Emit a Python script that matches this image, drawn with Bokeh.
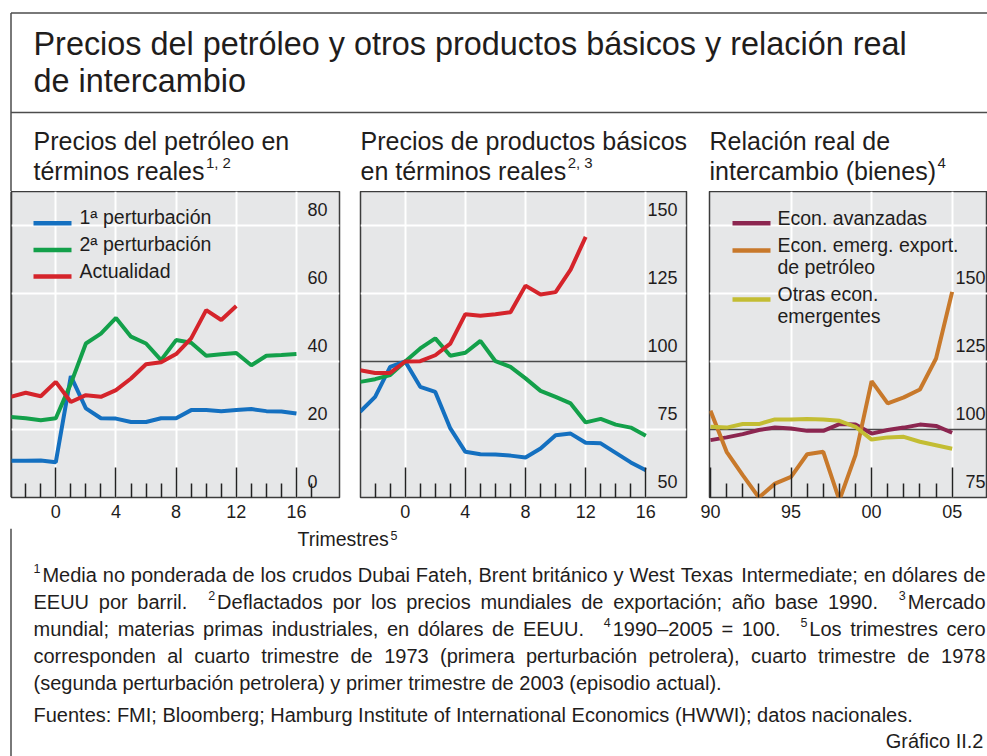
from bokeh.plotting import figure
from bokeh.layouts import column, row
from bokeh.models import Range1d, FixedTicker, Grid, ColumnDataSource
from bokeh.core.properties import value, field
from bokeh.embed import file_html
from bokeh.resources import INLINE

# ------------------------------------------------------------------ data
quarters = list(range(-3, 17))
quarters_now = list(range(-3, 13))
oil_first = [10.8, 10.8, 10.9, 10.4, 35.7, 26.2, 23.3, 23.2, 22.2, 22.2,
             23.3, 23.3, 25.7, 25.7, 25.4, 25.7, 26.0, 25.4, 25.3, 24.7]
oil_second = [23.7, 23.3, 22.7, 23.3, 33.5, 45.3, 48.2, 52.8, 47.3, 45.3,
              40.4, 46.3, 45.5, 41.7, 42.1, 42.5, 38.9, 41.7, 41.9, 42.2]
oil_current = [29.6, 30.8, 29.8, 34.0, 28.1, 30.1, 29.6, 31.6, 35.0, 39.2,
               39.8, 42.2, 46.8, 55.1, 52.2, 56.3]

com_first = [81.5, 87.0, 98.0, 100.0, 90.7, 88.8, 75.4, 66.8, 65.9, 65.8,
             65.4, 64.7, 68.0, 72.9, 73.5, 70.1, 69.9, 66.4, 62.9, 60.0]
com_second = [92.5, 93.5, 95.0, 100.0, 104.8, 108.5, 102.1, 103.2, 107.6, 100.1,
              98.0, 93.8, 89.2, 87.0, 84.6, 77.6, 78.9, 76.8, 75.7, 72.7]
com_current = [96.8, 95.8, 95.8, 100.0, 100.1, 102.3, 106.6, 117.4, 116.8, 117.4,
               118.1, 127.9, 124.6, 125.5, 133.8, 145.8]

years = list(range(1990, 2006))
tot_advanced = [96.1, 97.1, 98.3, 99.8, 100.7, 100.4, 99.5, 99.5, 102.0, 101.8,
                98.5, 99.8, 100.7, 101.8, 101.3, 98.8]
tot_oil_exp = [106.9, 91.8, 83.2, 75.0, 80.1, 82.6, 90.9, 91.8, 74.0, 90.6,
               117.8, 109.6, 111.8, 114.7, 126.1, 150.6]
tot_other = [101.0, 100.7, 102.0, 102.0, 103.7, 103.7, 103.9, 103.7, 103.2, 101.0,
             96.3, 97.1, 97.3, 95.5, 94.2, 92.9]

q_major = [0, 4, 8, 12, 16]
q_minor_1 = [-2, -1, 1, 2, 3, 5, 6, 7, 9, 10, 11, 13, 14, 15, 17]
q_minor_2 = [-2, -1, 1, 2, 3, 5, 6, 7, 9, 10, 11, 13, 14, 15]
y_major = [1990, 1995, 2000, 2005]
y_minor = [1991, 1992, 1993, 1994, 1996, 1997, 1998, 1999, 2001, 2002, 2003, 2004]
year_labels = {1990: "90", 1995: "95", 2000: "00", 2005: "05"}

oil_ticks = [0, 20, 40, 60, 80]
com_ticks = [50, 75, 100, 125, 150]
tot_ticks = [75, 100, 125, 150]

legend_oil = ["1ª perturbación", "2ª perturbación", "Actualidad"]
legend_tot = [["Econ. avanzadas"], ["Econ. emerg. export.", "de petróleo"],
              ["Otras econ.", "emergentes"]]

# ------------------------------------------------------------------ style
FONT = "Liberation Sans"
TXT = "#1f1d1c"
BG = "#e6e7e8"
FRAME = "#3c3c3c"
BORDER = "#4d4d4d"
C_BLUE, C_GREEN, C_RED = "#1470c0", "#13a04a", "#d5242b"
C_MAROON, C_ORANGE, C_OLIVE = "#8c2650", "#c8792b", "#c3bd33"
TY = 2.0   # rendered text centre sits this many px below the given y

AW = {' ': 278, '!': 278, '(': 333, ')': 333, ',': 278, '-': 333, '.': 278,
      ':': 278, ';': 278, '=': 584, '–': 556, 'ª': 370}
for c in '0123456789':
    AW[c] = 556
AW.update(dict(A=667, B=667, C=722, D=722, E=667, F=611, G=778, H=722, I=278, J=500,
               K=667, L=556, M=833, N=722, O=778, P=667, Q=778, R=722, S=667, T=611,
               U=722, V=667, W=944, X=667, Y=667, Z=611))
AW.update(dict(a=556, b=556, c=500, d=556, e=556, f=278, g=556, h=556, i=222, j=222,
               k=500, l=222, m=833, n=556, o=556, p=556, q=556, r=333, s=500, t=278,
               u=556, v=500, w=722, x=500, y=500, z=500))
for a, b in zip('áéíóúñ', 'aeioun'):
    AW[a] = AW[b]


def tw(s, size):
    return sum(AW.get(ch, 556) for ch in s) * size / 1000.0


def new_rows():
    return dict(x=[], y=[], text=[], size=[])


def put(rows, text, x, y, size):
    rows['x'].append(x)
    rows['y'].append(y)
    rows['text'].append(text)
    rows['size'].append("%.1fpx" % size)


def draw_rows(p, rows, align="left", color=TXT):
    p.text(x='x', y='y', text='text', source=ColumnDataSource(rows),
           text_font=value(FONT), text_font_size=field('size'),
           text_align=align, text_baseline="alphabetic", text_color=color)


def canvas(w, h, x0, x1, ytop, ybot):
    p = figure(width=w, height=h, x_range=Range1d(x0, x1), y_range=Range1d(ybot, ytop),
               min_border=0, output_backend="svg", toolbar_location=None,
               x_axis_location=None, y_axis_location=None,
               outline_line_color=None, background_fill_color="white",
               border_fill_color="white")
    for r in p.center:
        r.visible = False
    return p


FS, SUP, RAISE = 20, 12.5, 6.0


def parse(line):
    words, gaps, wide = [], [], False
    for tok in line.split(' '):
        if tok == '|':
            wide = True
            continue
        runs = []
        if tok.startswith('^'):
            runs.append((tok[1], SUP, RAISE, 2.0))
            tok = tok[2:]
        runs.append((tok, FS, 0.0, 0.0))
        if words:
            gaps.append(3 if wide else 1)
        wide = False
        words.append(runs)
    return words, gaps


def place_line(rows, line, x0, y, x1=None):
    words, gaps = parse(line)
    widths = [sum(tw(t, s) + pad for t, s, dy, pad in w) for w in words]
    sp = tw(' ', FS)
    base = [g * sp for g in gaps]
    extra = 0.0
    if x1 is not None and gaps:
        extra = (x1 - x0 - sum(widths) - sum(base)) / len(gaps)
    x = x0
    for i, w in enumerate(words):
        xx = x
        for t, s, dy, pad in w:
            put(rows, t, xx, y - dy, s)
            xx += tw(t, s) + pad
        x += widths[i]
        if i < len(gaps):
            x += base[i] + extra


# ------------------------------------------------------------------ header
hdr = canvas(987, 191, 0, 987, 0, 191)
hdr.segment(x0=[10.5, 10.5, 10.5], y0=[12.5, 12.5, 112], x1=[987, 10.5, 987],
            y1=[12.5, 191, 112], line_color=BORDER, line_width=1.5)
hr = new_rows()
TF = 32.4
put(hr, "Precios del petróleo y otros productos básicos y relación real", 33, 45 - TY, TF)
put(hr, "de intercambio", 33, 82 - TY, TF)
SUBF, SUBS = 25, 15
subs = [(33, "Precios del petróleo en", "términos reales", "1, 2"),
        (360, "Precios de productos básicos", "en términos reales", "2, 3"),
        (709, "Relación real de", "intercambio (bienes)", "4")]
for x0, l1, l2, sup in subs:
    put(hr, l1, x0, 142 - TY, SUBF)
    put(hr, l2, x0, 172 - TY, SUBF)
    put(hr, sup, x0 + tw(l2, SUBF) + 1.5, 164 - TY, SUBS)
draw_rows(hdr, hr)

# ------------------------------------------------------------------ panels
FRAME_H = 306
BOT_PX = 497.0
TOP_PX = 191.0


def make_panel(fl_px, fw, bl, br, zero_px, zero_val, ppx, base_val, ppy,
               xmaj, xmin, hgrid, refline):
    fx = lambda px: zero_val + (px - zero_px) / ppx
    fy = lambda py: base_val + (BOT_PX - py) / ppy
    p = figure(frame_width=fw, frame_height=FRAME_H,
               min_border_left=bl, min_border_right=br, min_border_top=0,
               min_border_bottom=31,
               x_range=Range1d(fx(fl_px), fx(fl_px + fw)),
               y_range=Range1d(base_val, fy(TOP_PX)),
               output_backend="svg", toolbar_location=None, y_axis_location=None,
               background_fill_color=BG, border_fill_color="white",
               outline_line_color=FRAME, outline_line_width=1.5)
    for r in p.center:
        r.visible = False
    vg = [t for t in xmaj if fx(fl_px) + 0.3 < t]
    p.add_layout(Grid(dimension=0, ticker=FixedTicker(ticks=vg),
                      grid_line_color="white", grid_line_width=2))
    p.add_layout(Grid(dimension=1, ticker=FixedTicker(ticks=hgrid),
                      grid_line_color="white", grid_line_width=2))
    if refline is not None:
        p.add_layout(Grid(dimension=1, ticker=FixedTicker(ticks=[refline]),
                          grid_line_color="#4a4a4a", grid_line_width=1.5))
    ax = p.xaxis[0]
    ax.ticker = FixedTicker(ticks=xmaj, minor_ticks=xmin)
    ax.axis_line_color = None
    ax.major_tick_in = 30
    ax.major_tick_out = 0
    ax.minor_tick_in = 14
    ax.minor_tick_out = 0
    ax.major_tick_line_color = "#222222"
    ax.minor_tick_line_color = "#222222"
    ax.major_tick_line_width = 1.5
    ax.minor_tick_line_width = 1.5
    ax.major_label_text_font = FONT
    ax.major_label_text_font_size = "18px"
    ax.major_label_text_color = TXT
    ax.major_label_standoff = 7
    return p, fx, fy


# Panel 1: oil prices
p1, fx1, fy1 = make_panel(11, 328, 0, 10, 55.3, 0, 15.04, 0, 3.4,
                          q_major, q_minor_1, [20, 40, 60, 80], None)
for ys, col, xs in [(oil_first, C_BLUE, quarters), (oil_second, C_GREEN, quarters),
                    (oil_current, C_RED, quarters_now)]:
    p1.line(xs, ys, line_color=col, line_width=4)
r1 = new_rows()
for t in oil_ticks:
    put(r1, str(t), fx1(307), t + (14.5 + TY) / 3.4, 18)
draw_rows(p1, r1)
lr = new_rows()
for i, (lab, col) in enumerate(zip(legend_oil, [C_BLUE, C_GREEN, C_RED])):
    ly = 222.7 + i * 26.7
    p1.segment(x0=[fx1(33)], y0=[fy1(ly)], x1=[fx1(71)], y1=[fy1(ly)],
               line_color=col, line_width=4.5)
    put(lr, lab, fx1(79), fy1(ly - 3.8 - TY), 19.5)
draw_rows(p1, lr)

# Panel 2: commodity prices
p2, fx2, fy2 = make_panel(360, 326, 11, 12, 404.7, 0, 15.04, 50, 2.72,
                          q_major, q_minor_2, [75, 125, 150], 100)
for ys, col, xs in [(com_first, C_BLUE, quarters), (com_second, C_GREEN, quarters),
                    (com_current, C_RED, quarters_now)]:
    p2.line(xs, ys, line_color=col, line_width=4)
r2 = new_rows()
for t in com_ticks:
    put(r2, str(t), fx2(677), t + (14.5 + TY) / 2.72, 18)
draw_rows(p2, r2, align="right")

# Panel 3: terms of trade
p3, fx3, fy3 = make_panel(709, 278, 11, 0, 710, 1990, 16.11, 75, 2.72,
                          y_major, y_minor, [125, 150, 175], 100)
p3.xaxis[0].major_label_overrides = year_labels
for ys, col in [(tot_advanced, C_MAROON), (tot_oil_exp, C_ORANGE), (tot_other, C_OLIVE)]:
    p3.line(years, ys, line_color=col, line_width=4)
r3 = new_rows()
for t in tot_ticks:
    put(r3, str(t), fx3(985), t + (14.5 + TY) / 2.72, 18)
draw_rows(p3, r3, align="right")
lr3 = new_rows()
leg_y = [222.7, 250.0, 299.0]
for (lines, col, ly) in zip(legend_tot, [C_MAROON, C_ORANGE, C_OLIVE], leg_y):
    p3.segment(x0=[fx3(732)], y0=[fy3(ly)], x1=[fx3(770)], y1=[fy3(ly)],
               line_color=col, line_width=4.5)
    for k, txt in enumerate(lines):
        put(lr3, txt, fx3(777), fy3(ly - 3.5 - TY + 22 * k), 19.5)
draw_rows(p3, lr3)

# left border strip between header and footer
strip = canvas(11, 337, 0, 11, 191, 528)
strip.segment(x0=[10.5], y0=[191], x1=[10.5], y1=[528], line_color=BORDER, line_width=1.5)

# ------------------------------------------------------------------ footer
ftr = canvas(987, 228, 0, 987, 528, 756)
ftr.segment(x0=[10.5], y0=[528], x1=[10.5], y1=[756], line_color=BORDER, line_width=1.5)
fr = new_rows()
put(fr, "Trimestres", 297, 540 - TY, 19.5)
put(fr, "5", 297 + tw("Trimestres", 19.5) + 1, 537 - TY, 12.5)
notes = [
    "^1Media no ponderada de los crudos Dubai Fateh, Brent británico y West Texas Intermediate; en dólares de",
    "EEUU por barril. | ^2Deflactados por los precios mundiales de exportación; año base 1990. | ^3Mercado",
    "mundial; materias primas industriales, en dólares de EEUU. | ^41990–2005 = 100. | ^5Los trimestres cero",
    "corresponden al cuarto trimestre de 1973 (primera perturbación petrolera), cuarto trimestre de 1978",
]
for i, ln in enumerate(notes):
    place_line(fr, ln, 33, 576 + 27 * i - TY, 985)
put(fr, "(segunda perturbación petrolera) y primer trimestre de 2003 (episodio actual).", 33, 684 - TY, FS)
put(fr, "Fuentes: FMI; Bloomberg; Hamburg Institute of International Economics (HWWI); datos nacionales.", 33, 716 - TY, FS)
put(fr, "Gráfico II.2", 983 - tw("Gráfico II.2", FS), 742 - TY, FS)
draw_rows(ftr, fr)

root = column(hdr, row(strip, p1, p2, p3), ftr)
open("out.html", "w").write(file_html(root, INLINE))
